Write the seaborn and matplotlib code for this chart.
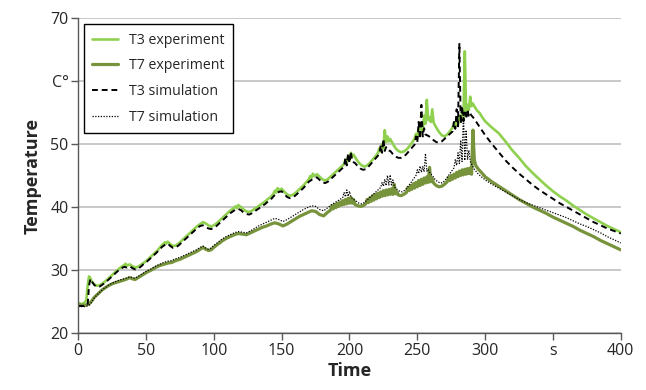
import matplotlib
matplotlib.use('Agg')
import matplotlib.pyplot as plt
import pandas as pd
import seaborn as sns

# Data (time in s, temperature in C)
t3_exp_t = [0, 2, 4, 6, 7, 8, 9, 10, 12, 14, 16, 18, 20, 22, 24, 26, 28, 30, 32, 34, 35, 36, 38, 40,
            42, 44, 46, 48, 50, 52, 54, 56, 58, 60, 62, 64, 65, 66, 68, 70, 72, 74, 76, 78, 80, 82,
            84, 86, 88, 90, 92, 94, 96, 98, 100, 102, 104, 106, 108, 110, 112, 114, 116, 117, 118,
            120, 122, 124, 126, 128, 130, 132, 134, 136, 138, 140, 142, 144, 145, 146, 147, 148,
            150, 152, 154, 156, 158, 160, 162, 164, 166, 168, 170, 171, 172, 173, 174, 176, 178,
            180, 182, 184, 186, 188, 190, 192, 194, 196, 197, 198, 199, 200, 201, 202, 203, 205,
            207, 209, 211, 213, 215, 217, 219, 221, 222, 223, 224, 225, 226, 227, 228, 229, 230,
            232, 234, 236, 238, 240, 242, 244, 246, 248, 249, 250, 251, 252, 253, 254, 255, 256,
            257, 258, 259, 260, 261, 262, 264, 266, 268, 270, 272, 274, 276, 277, 278, 279, 280,
            281, 282, 283, 284, 285, 286, 287, 288, 289, 290, 291, 292, 294, 296, 298, 300, 305,
            310, 315, 320, 325, 330, 335, 340, 345, 350, 355, 360, 365, 370, 375, 380, 385, 390,
            395, 400]
t3_exp = [24.8, 24.6, 24.7, 25.2, 27.5, 29.0, 28.7, 28.2, 27.7, 27.5, 27.6, 27.9, 28.2, 28.6, 29.0,
          29.4, 29.8, 30.2, 30.5, 30.8, 31.0, 30.7, 30.9, 30.6, 30.4, 30.5, 30.8, 31.1, 31.4, 31.8,
          32.2, 32.6, 33.0, 33.5, 34.0, 34.4, 34.2, 34.5, 34.1, 33.8, 33.9, 34.2, 34.6, 35.0, 35.4,
          35.8, 36.2, 36.6, 37.0, 37.3, 37.6, 37.4, 37.1, 36.9, 37.1, 37.4, 37.8, 38.2, 38.6, 39.0,
          39.4, 39.7, 40.1, 39.8, 40.3, 40.0, 39.6, 39.3, 39.2, 39.4, 39.7, 40.0, 40.3, 40.6, 40.9,
          41.3, 41.6, 42.1, 42.6, 42.3, 43.0, 42.7, 42.9, 42.4, 42.0, 41.8, 41.9, 42.2, 42.6, 43.0,
          43.4, 43.9, 44.4, 44.9, 44.6, 45.3, 44.9, 45.2, 44.8, 44.4, 44.2, 44.4, 44.8, 45.2, 45.6,
          46.0, 46.4, 46.8, 47.5, 47.0, 48.0, 47.4, 48.6, 48.0, 48.3, 47.6, 47.0, 46.6, 46.4, 46.6,
          47.0, 47.5, 48.0, 48.6, 49.3, 48.8, 50.0, 49.3, 52.2, 50.3, 51.2, 50.4, 50.8, 50.0, 49.3,
          48.9, 48.7, 48.8, 49.1, 49.6, 50.2, 50.8, 51.6, 51.0, 52.5, 51.6, 53.0, 52.2, 54.5, 53.2,
          57.0, 53.8, 54.2, 53.5, 55.5, 53.4, 52.6, 51.9, 51.4, 51.2, 51.5, 52.0, 52.6, 53.3, 52.8,
          53.8, 53.0, 54.5, 53.6, 55.0, 54.0, 64.7, 55.0, 56.2, 55.4, 57.5, 56.0, 56.4, 56.0, 55.3,
          54.9, 54.2, 53.6, 52.6, 51.7, 50.4, 49.0, 47.8, 46.5, 45.4, 44.4, 43.4, 42.5, 41.7, 41.0,
          40.2, 39.5, 38.8, 38.2, 37.6, 37.0, 36.5, 36.0]

t7_exp_t = [0, 5, 8, 10, 12, 15, 18, 20, 23, 26, 29, 32, 35, 38, 40, 42, 45, 48, 51, 54, 57, 60, 63,
            66, 69, 72, 75, 78, 81, 84, 87, 90, 92, 94, 96, 98, 100, 103, 106, 109, 112, 115, 118,
            121, 124, 127, 130, 133, 136, 139, 142, 145, 148, 151, 154, 157, 160, 163, 166, 169,
            172, 175, 178, 181, 184, 186, 187, 188, 189, 190, 191, 192, 193, 194, 195, 196, 197,
            198, 199, 200, 201, 202, 203, 204, 206, 208, 210, 212, 213, 214, 215, 216, 217, 218,
            219, 220, 221, 222, 223, 224, 225, 226, 227, 228, 229, 230, 231, 232, 233, 234, 235,
            236, 238, 240, 242, 243, 244, 245, 246, 247, 248, 249, 250, 251, 252, 253, 254, 255,
            256, 257, 258, 259, 260, 261, 262, 264, 266, 268, 270, 272, 273, 274, 275, 276, 277,
            278, 279, 280, 281, 282, 283, 284, 285, 286, 287, 288, 289, 290, 291, 292, 293, 295,
            298, 300, 305, 310, 315, 320, 325, 330, 335, 340, 345, 350, 355, 360, 365, 370, 375,
            380, 385, 390, 395, 400]
t7_exp = [24.5, 24.4, 24.6, 25.1, 25.7, 26.3, 26.9, 27.2, 27.6, 27.9, 28.1, 28.3, 28.5, 28.8, 28.6,
          28.5, 28.9, 29.3, 29.7, 30.0, 30.4, 30.7, 30.9, 31.1, 31.2, 31.5, 31.7, 32.0, 32.3, 32.6,
          32.9, 33.3, 33.6, 33.3, 33.1, 33.2, 33.6, 34.1, 34.6, 35.0, 35.3, 35.6, 35.8, 35.7, 35.6,
          35.9, 36.2, 36.5, 36.8, 37.0, 37.3, 37.5, 37.3, 37.0, 37.3, 37.7, 38.1, 38.5, 38.8, 39.1,
          39.4, 39.3, 38.8, 38.6, 39.2, 39.5, 40.2, 39.7, 40.4, 39.9, 40.6, 40.1, 40.8, 40.3, 41.0,
          40.4, 41.2, 40.5, 41.4, 40.6, 41.5, 40.6, 41.2, 40.4, 40.2, 40.1, 40.2, 40.5, 41.2, 40.7,
          41.5, 40.9, 41.8, 41.1, 42.0, 41.3, 42.2, 41.5, 42.4, 41.7, 42.6, 41.8, 42.7, 41.9, 42.8,
          42.0, 42.9, 42.0, 43.6, 42.1, 42.4, 41.9, 41.8, 42.0, 42.3, 43.1, 42.6, 43.4, 42.8, 43.7,
          43.0, 43.9, 43.2, 44.2, 43.4, 44.4, 43.6, 44.6, 43.8, 44.8, 43.9, 46.3, 44.0, 44.5, 43.8,
          43.4, 43.2, 43.3, 43.6, 44.0, 44.7, 44.2, 45.0, 44.4, 45.2, 44.6, 45.5, 44.8, 45.7, 45.0,
          45.9, 45.1, 46.0, 45.2, 46.1, 45.3, 46.2, 45.2, 52.2, 47.5, 46.6, 46.0, 45.3, 44.8, 44.0,
          43.3, 42.6, 41.9, 41.2, 40.6, 40.0, 39.5, 39.0, 38.4, 37.9, 37.4, 36.9, 36.3, 35.8, 35.3,
          34.7, 34.2, 33.7, 33.2]

t3_sim_t = [0, 4, 7, 8, 9, 10, 12, 14, 16, 18, 20, 22, 24, 26, 28, 30, 32, 34, 36, 38, 40, 42, 44,
            46, 48, 50, 52, 54, 56, 58, 60, 62, 64, 66, 68, 70, 72, 74, 76, 78, 80, 82, 84, 86, 88,
            90, 92, 94, 96, 98, 100, 102, 104, 106, 108, 110, 112, 114, 116, 118, 120, 122, 124,
            126, 128, 130, 132, 134, 136, 138, 140, 142, 144, 146, 148, 150, 152, 154, 156, 158,
            160, 162, 164, 166, 168, 170, 172, 174, 176, 178, 180, 182, 184, 186, 188, 190, 192,
            194, 196, 197, 198, 199, 200, 201, 202, 204, 206, 208, 210, 212, 214, 216, 218, 220,
            222, 223, 224, 225, 226, 227, 228, 230, 232, 234, 236, 238, 240, 242, 244, 246, 248,
            249, 250, 251, 252, 253, 254, 255, 256, 258, 260, 262, 264, 266, 268, 270, 272, 274,
            276, 277, 278, 279, 280, 281, 282, 283, 284, 285, 286, 287, 288, 289, 290, 292, 295,
            300, 305, 310, 315, 320, 325, 330, 335, 340, 345, 350, 355, 360, 365, 370, 375, 380,
            385, 390, 395, 400]
t3_sim = [24.3, 24.3, 24.5, 27.5, 28.6, 28.2, 27.6, 27.3, 27.4, 27.7, 28.0, 28.4, 28.8, 29.2, 29.6,
          30.0, 30.3, 30.5, 30.4, 30.6, 30.3, 30.1, 30.2, 30.5, 30.9, 31.2, 31.6, 32.0, 32.4, 32.8,
          33.3, 33.7, 34.0, 34.2, 33.8, 33.5, 33.6, 33.9, 34.3, 34.7, 35.1, 35.5, 35.9, 36.3, 36.7,
          37.0, 37.1, 36.8, 36.6, 36.5, 36.7, 37.0, 37.4, 37.8, 38.2, 38.6, 39.0, 39.3, 39.6, 39.7,
          39.5, 39.1, 38.9, 38.8, 39.0, 39.3, 39.6, 39.9, 40.2, 40.5, 40.9, 41.2, 41.7, 42.1, 42.4,
          42.5, 42.0, 41.6, 41.4, 41.5, 41.8, 42.2, 42.6, 43.0, 43.5, 44.0, 44.3, 44.6, 44.7, 44.3,
          43.9, 43.8, 44.0, 44.4, 44.8, 45.2, 45.6, 46.0, 46.4, 47.8, 46.6, 48.5, 47.0, 48.8, 47.2,
          47.0, 46.5, 46.1, 45.9, 46.0, 46.4, 46.9, 47.4, 47.9, 48.4, 49.8, 48.6, 50.8, 48.9, 49.5,
          49.0, 48.9, 48.4, 48.0, 47.8, 47.8, 48.0, 48.4, 48.9, 49.4, 49.9, 51.2, 50.3, 53.5, 50.8,
          56.2, 51.2, 52.5, 51.5, 51.3, 51.0, 50.6, 50.3, 50.2, 50.4, 50.8, 51.2, 51.6, 52.0, 53.5,
          52.4, 55.5, 52.8, 66.0, 53.2, 56.0, 53.6, 55.0, 54.0, 55.5, 54.3, 54.8, 54.5, 54.0, 53.0,
          51.4, 50.0, 48.7, 47.4, 46.3, 45.3, 44.4, 43.5, 42.7, 42.0, 41.3, 40.6, 40.0, 39.4, 38.8,
          38.2, 37.6, 37.1, 36.6, 36.2, 35.8]

t7_sim_t = [0, 5, 8, 10, 12, 15, 18, 20, 23, 26, 29, 32, 35, 38, 40, 42, 45, 48, 51, 54, 57, 60, 63,
            66, 69, 72, 75, 78, 81, 84, 87, 90, 92, 94, 96, 98, 100, 103, 106, 109, 112, 115, 118,
            121, 124, 127, 130, 133, 136, 139, 142, 145, 148, 151, 154, 157, 160, 163, 166, 169,
            172, 175, 178, 181, 184, 187, 190, 193, 195, 196, 197, 198, 199, 200, 201, 203, 205,
            207, 209, 211, 213, 215, 217, 219, 221, 223, 224, 225, 226, 227, 228, 229, 230, 231,
            232, 233, 235, 237, 239, 241, 243, 245, 247, 249, 250, 251, 252, 253, 254, 255, 256,
            257, 258, 259, 261, 263, 265, 267, 269, 271, 273, 275, 277, 278, 279, 280, 281, 282,
            283, 284, 285, 286, 287, 288, 289, 290, 292, 295, 300, 305, 310, 315, 320, 325, 330,
            335, 340, 345, 350, 355, 360, 365, 370, 375, 380, 385, 390, 395, 400]
t7_sim = [24.2, 24.2, 24.4, 24.9, 25.6, 26.3, 26.9, 27.2, 27.7, 28.0, 28.3, 28.5, 28.7, 28.9, 28.8,
          28.7, 29.1, 29.5, 29.9, 30.2, 30.6, 30.9, 31.2, 31.4, 31.5, 31.8, 32.0, 32.3, 32.6, 32.9,
          33.2, 33.6, 33.8, 33.5, 33.3, 33.5, 33.9, 34.4, 34.9, 35.3, 35.6, 35.9, 36.1, 36.0, 35.9,
          36.2, 36.6, 37.0, 37.3, 37.6, 37.9, 38.2, 38.0, 37.7, 38.0, 38.4, 38.8, 39.2, 39.6, 39.9,
          40.2, 40.1, 39.6, 39.4, 39.9, 40.4, 40.8, 41.2, 41.5, 42.3, 41.6, 42.7, 41.7, 42.5, 41.6,
          41.2, 40.9, 40.6, 40.5, 40.7, 41.1, 41.5, 41.9, 42.3, 42.7, 43.1, 43.9, 43.3, 44.4, 43.4,
          45.0, 43.5, 45.1, 43.5, 44.3, 43.2, 42.8, 42.5, 42.4, 42.7, 43.2, 43.8, 44.4, 45.0, 45.9,
          45.3, 46.5, 45.5, 46.4, 45.6, 48.5, 45.7, 46.0, 45.5, 45.0, 44.4, 44.0, 43.8, 43.9, 44.4,
          45.0, 45.6, 46.2, 47.5, 46.6, 48.6, 46.9, 50.6, 47.2, 55.0, 47.4, 52.2, 47.5, 49.0, 47.3,
          46.8, 46.0, 45.2, 44.3, 43.6, 43.0, 42.4, 41.8, 41.2, 40.7, 40.3, 39.9, 39.5, 39.1, 38.7,
          38.3, 37.8, 37.3, 36.9, 36.4, 35.9, 35.3, 34.8, 34.3]

x_ticks = [0, 50, 100, 150, 200, 250, 300, 350, 400]
x_labels = ['0', '50', '100', '150', '200', '250', '300', 's', '400']
y_ticks = [20, 30, 40, 50, 60, 70]
y_labels = ['20', '30', '40', '50', 'C°', '70']

sns.set_style('white')
plt.rcParams['font.family'] = ['Open Sans', 'DejaVu Sans']

fig, ax = plt.subplots(figsize=(6.46, 3.9), dpi=100)
fig.subplots_adjust(left=0.121, right=0.961, top=0.954, bottom=0.146)

sns.lineplot(x=t3_exp_t, y=t3_exp, ax=ax, color='#8FD14F', lw=1.9, estimator=None, label='T3 experiment')
sns.lineplot(x=t7_exp_t, y=t7_exp, ax=ax, color='#77933C', lw=2.3, estimator=None, label='T7 experiment')
sns.lineplot(x=t3_sim_t, y=t3_sim, ax=ax, color='black', lw=1.4, estimator=None, label='T3 simulation',
             dashes=False)
sns.lineplot(x=t7_sim_t, y=t7_sim, ax=ax, color='black', lw=0.9, estimator=None, label='T7 simulation',
             dashes=False)
ax.lines[2].set_dashes([3, 2])
ax.lines[3].set_dashes([1, 1.2])

ax.set_xlim(0, 400)
ax.set_ylim(20, 70)
ax.set_xticks(x_ticks)
ax.set_xticklabels(x_labels)
ax.set_yticks(y_ticks)
ax.set_yticklabels(y_labels)
ax.tick_params(axis='both', labelsize=11.5, length=5, width=1, color='#595959', direction='out',
               bottom=True, left=True, pad=2)

ax.grid(axis='y', color='#BFBFBF', lw=1.2)
ax.set_axisbelow(True)
for side in ['top', 'right']:
    ax.spines[side].set_visible(False)
for side in ['left', 'bottom']:
    ax.spines[side].set_color('#595959')
    ax.spines[side].set_linewidth(1)

ax.set_xlabel('Time', fontsize=13, fontweight='bold', labelpad=2)
ax.set_ylabel('Temperature', fontsize=13, fontweight='bold', labelpad=6)

leg = ax.legend(loc='upper left', bbox_to_anchor=(0.0, 0.998), fontsize=10.2, frameon=True,
                fancybox=False, framealpha=1, edgecolor='black', handlelength=1.8,
                labelspacing=0.75, borderpad=0.6, borderaxespad=0.4)
leg.get_frame().set_linewidth(1)

fig.savefig('out.png')
